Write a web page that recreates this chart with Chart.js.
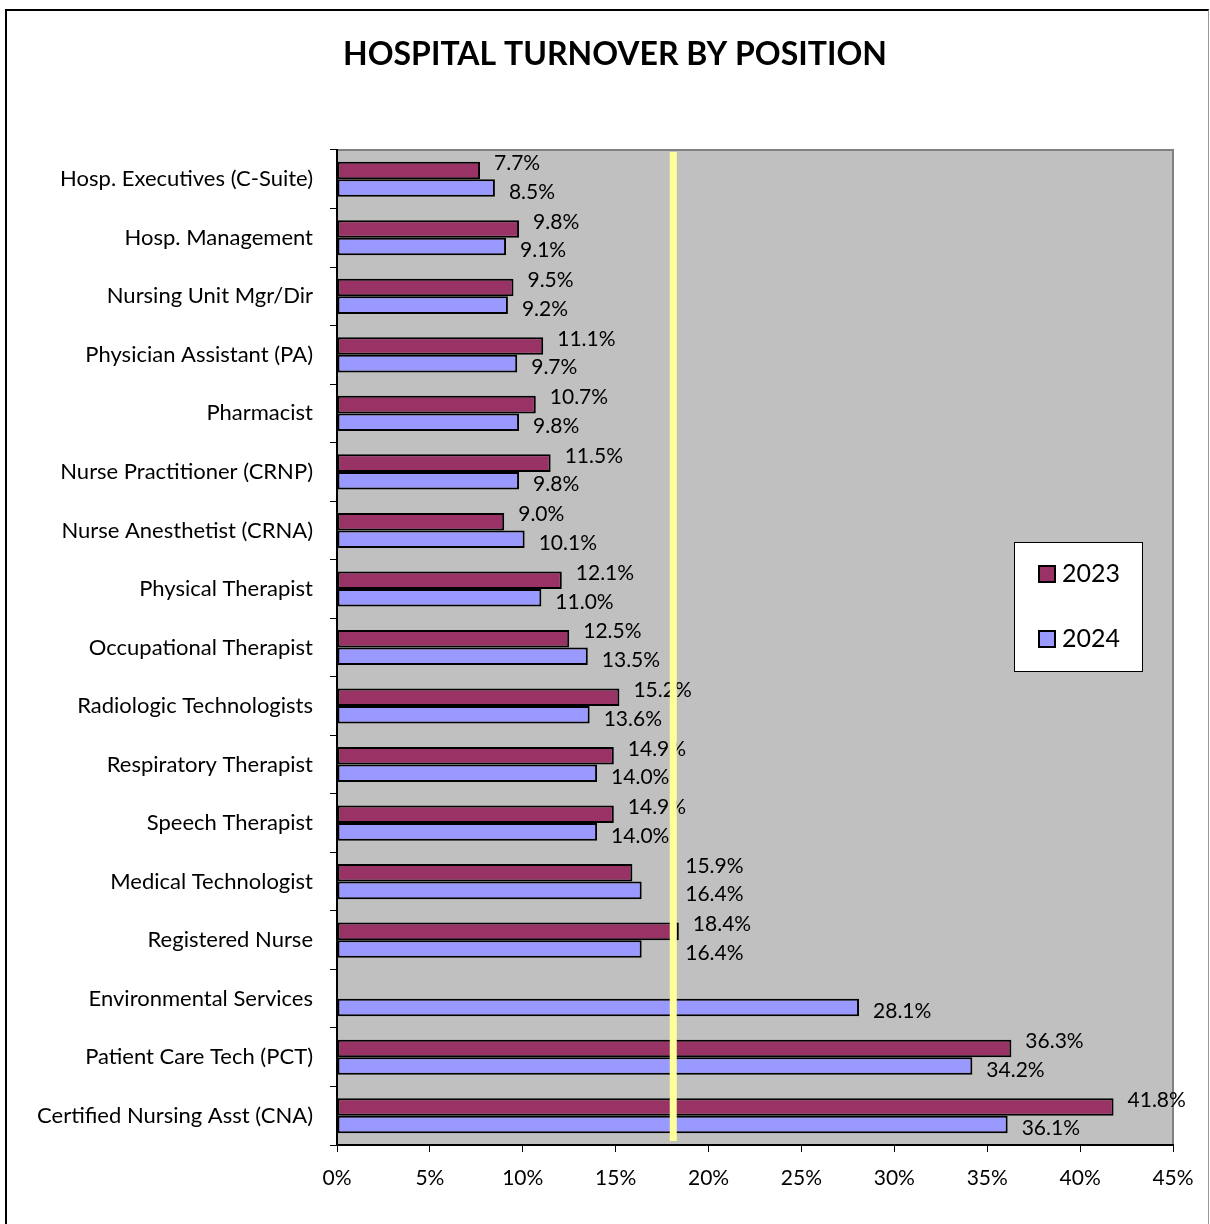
<!DOCTYPE html>
<html>
<head>
<meta charset="utf-8">
<script src="https://cdn.jsdelivr.net/npm/chart.js@4"></script>
<style>
  body { margin: 0; background: #fff; }
  #frame { position: absolute; left: 5px; top: 9px; width: 1201px; height: 1230px;
           border-left: 2px solid #000; border-top: 2px solid #000; border-right: 1px solid #999; }
  #chart { position: absolute; left: 0; top: 0; }
</style>
</head>
<body>
<div id="frame"></div>
<canvas id="chart" width="1210" height="1224"></canvas>
<script>
const positions = [
  'Hosp. Executives (C-Suite)', 'Hosp. Management', 'Nursing Unit Mgr/Dir',
  'Physician Assistant (PA)', 'Pharmacist', 'Nurse Practitioner (CRNP)',
  'Nurse Anesthetist (CRNA)', 'Physical Therapist', 'Occupational Therapist',
  'Radiologic Technologists', 'Respiratory Therapist', 'Speech Therapist',
  'Medical Technologist', 'Registered Nurse', 'Environmental Services',
  'Patient Care Tech (PCT)', 'Certified Nursing Asst (CNA)'
];
const turnover2023 = [7.7, 9.8, 9.5, 11.1, 10.7, 11.5, 9.0, 12.1, 12.5, 15.2, 14.9, 14.9, 15.9, 18.4, null, 36.3, 41.8];
const turnover2024 = [8.5, 9.1, 9.2, 9.7, 9.8, 9.8, 10.1, 11.0, 13.5, 13.6, 14.0, 14.0, 16.4, 16.4, 28.1, 34.2, 36.1];
const xTicks = [0, 5, 10, 15, 20, 25, 30, 35, 40, 45];
const benchmark = 18.1; // yellow reference line

const FONT = 'Lato, "Open Sans", sans-serif';

const plotPlugin = {
  id: 'plotExtras',
  beforeDraw(chart) {
    const { ctx, chartArea: a } = chart;
    ctx.save();
    ctx.fillStyle = '#C0C0C0';
    ctx.fillRect(a.left, a.top, a.right - a.left, a.bottom - a.top);
    ctx.strokeStyle = '#808080';
    ctx.lineWidth = 2;
    ctx.strokeRect(a.left, a.top, a.right - a.left, a.bottom - a.top);
    // title
    ctx.fillStyle = '#000';
    ctx.font = 'bold 32px ' + FONT;
    ctx.textAlign = 'center';
    ctx.textBaseline = 'middle';
    ctx.fillText('HOSPITAL TURNOVER BY POSITION', 615, 55);
    ctx.restore();
  },
  afterDatasetsDraw(chart) {
    const { ctx, scales } = chart;
    const lineX = scales.x.getPixelForValue(benchmark);
    ctx.save();
    ctx.font = '21px ' + FONT;
    ctx.fillStyle = '#000';
    ctx.textAlign = 'left';
    ctx.textBaseline = 'middle';
    chart.data.datasets.forEach((ds, di) => {
      const meta = chart.getDatasetMeta(di);
      meta.data.forEach((bar, i) => {
        const v = ds.data[i];
        if (v == null) return;
        const txt = v.toFixed(1) + '%';
        const w = ctx.measureText(txt).width;
        let x = bar.x + 14;
        // labels mostly hidden by the benchmark line are moved past it
        if (bar.x < lineX && x + w - lineX > w / 2) x = lineX + 12;
        const dy = di === 0 ? -7 : 4;
        ctx.fillText(txt, x, bar.y + dy);
      });
    });
    ctx.restore();
  },
  afterDraw(chart) {
    const { ctx, chartArea: a, scales } = chart;
    ctx.save();
    // benchmark line
    const x = scales.x.getPixelForValue(benchmark);
    ctx.strokeStyle = '#FFFF99';
    ctx.lineWidth = 7;
    ctx.beginPath();
    ctx.moveTo(x, a.top + 2);
    ctx.lineTo(x, a.bottom - 4);
    ctx.stroke();
    // legend
    const lx = 1014, ly = 542, lw = 128, lh = 129;
    ctx.fillStyle = '#fff';
    ctx.fillRect(lx, ly, lw, lh);
    ctx.strokeStyle = '#000';
    ctx.lineWidth = 1;
    ctx.strokeRect(lx + 0.5, ly + 0.5, lw, lh);
    ctx.font = '25px ' + FONT;
    ctx.textBaseline = 'middle';
    ctx.textAlign = 'left';
    chart.data.datasets.forEach((ds, di) => {
      const cy = ly + 32 + di * 65;
      ctx.fillStyle = ds.backgroundColor;
      ctx.fillRect(lx + 25, cy - 8, 16, 16);
      ctx.strokeStyle = '#000';
      ctx.lineWidth = 2;
      ctx.strokeRect(lx + 25, cy - 8, 16, 16);
      ctx.fillStyle = '#000';
      ctx.fillText(ds.label, lx + 48, cy);
    });
    ctx.restore();
  }
};

new Chart(document.getElementById('chart'), {
  type: 'bar',
  data: {
    labels: positions,
    datasets: [
      {
        label: '2023',
        data: turnover2023,
        backgroundColor: '#993366',
        borderColor: '#000',
        borderWidth: 2,
        borderSkipped: false
      },
      {
        label: '2024',
        data: turnover2024,
        backgroundColor: '#9999FF',
        borderColor: '#000',
        borderWidth: 2,
        borderSkipped: false
      }
    ]
  },
  options: {
    indexAxis: 'y',
    responsive: false,
    animation: false,
    categoryPercentage: 0.6,
    barPercentage: 1.0,
    layout: { padding: { left: 0, right: 37, top: 150, bottom: 0 } },
    plugins: {
      legend: { display: false },
      tooltip: { enabled: false }
    },
    scales: {
      x: {
        min: 0,
        max: 45,
        afterBuildTicks: s => { s.ticks = xTicks.map(v => ({ value: v })); },
        afterFit: s => { s.height = 79; },
        border: { color: '#000', width: 2 },
        grid: { drawOnChartArea: false, tickLength: 7, color: '#000', lineWidth: 1 },
        ticks: {
          color: '#000',
          padding: 14,
          font: { family: FONT, size: 21 },
          callback: v => v + '%'
        }
      },
      y: {
        afterFit: s => { s.width = 337; },
        border: { color: '#000', width: 2 },
        grid: { drawOnChartArea: false, offset: true, tickLength: 7, color: '#000', lineWidth: 1 },
        ticks: {
          color: '#000',
          padding: 17,
          font: { family: FONT, size: 22 }
        }
      }
    }
  },
  plugins: [plotPlugin]
});
</script>
</body>
</html>
